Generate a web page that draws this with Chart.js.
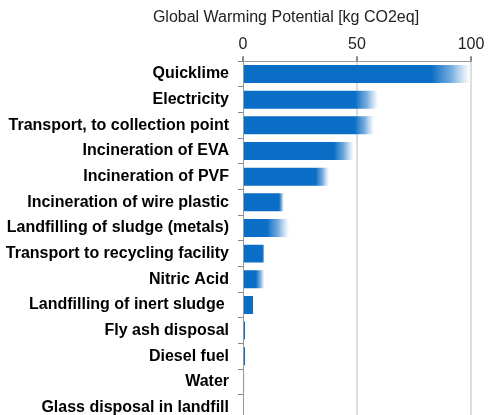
<!DOCTYPE html>
<html>
<head>
<meta charset="utf-8">
<script src="https://cdn.jsdelivr.net/npm/chart.js@4"></script>
<style>
  html, body { margin: 0; padding: 0; background: #fff; overflow: hidden; }
  #wrap { width: 488px; height: 439px; position: relative; }
</style>
</head>
<body>
<div id="wrap"><canvas id="gwpChart"></canvas></div>
<script>
// categories, top to bottom
var categories = ['Quicklime', 'Electricity', 'Transport, to collection point', 'Incineration of EVA',
  'Incineration of PVF', 'Incineration of wire plastic', 'Landfilling of sludge (metals)',
  'Transport to recycling facility', 'Nitric Acid', 'Landfilling of inert sludge ', 'Fly ash disposal',
  'Diesel fuel', 'Water', 'Glass disposal in landfill'];
// where the solid part of the bar ends, and where the faded end stops (kg CO2eq)
var solidValues = [82.8, 49.1, 49.0, 39.9, 31.9, 15.8, 10.5, 8.5, 5.6, 4.4, 0.9, 0.9, 0.5, 0];
var totalValues = [99.7, 59.3, 57.5, 48.7, 37.8, 17.9, 20.2, 9.5, 9.5, 4.4, 0.9, 0.9, 0.5, 0];
var xTicks = [0, 50, 100];
var axisTitle = 'Global Warming Potential [kg CO2eq]';

var blue = '#0a6ec6';
var fontFamily = 'Liberation Sans, Arial, sans-serif';

function barFill(ctx) {
  var chart = ctx.chart;
  if (!chart.chartArea) return blue;
  var i = ctx.dataIndex;
  if (categories[i] === 'Water') return '#6b8db4';
  var sx = chart.scales.x;
  var x0 = sx.getPixelForValue(solidValues[i]);
  var x1 = sx.getPixelForValue(totalValues[i]);
  if (x1 - x0 < 1) return blue;
  var g = chart.ctx.createLinearGradient(x0, 0, x1, 0);
  g.addColorStop(0, blue);
  g.addColorStop(0.5, 'rgba(80,150,215,0.8)');
  g.addColorStop(1, 'rgba(255,255,255,0.6)');
  return g;
}

// title sits left of the plot centre in the original figure
var titlePlugin = {
  id: 'offsetTitle',
  afterDraw: function(chart) {
    var c = chart.ctx;
    c.save();
    c.font = '16px ' + fontFamily;
    c.fillStyle = '#222';
    c.textAlign = 'center';
    c.textBaseline = 'middle';
    c.fillText(axisTitle, 286, 18);
    c.restore();
  }
};

var ctx = document.getElementById('gwpChart').getContext('2d');
var gwpChart = new Chart(ctx, {
  type: 'bar',
  data: {
    labels: categories,
    datasets: [{
      data: totalValues,
      backgroundColor: barFill,
      borderWidth: 0,
      barPercentage: 0.7,
      categoryPercentage: 1.0
    }]
  },
  plugins: [titlePlugin],
  options: {
    indexAxis: 'y',
    responsive: true,
    maintainAspectRatio: false,
    animation: false,
    layout: { padding: { left: 0, right: 17, top: 33, bottom: 2 } },
    plugins: { legend: { display: false }, tooltip: { enabled: false } },
    scales: {
      x: {
        position: 'top',
        min: 0, max: 100,
        afterBuildTicks: function(axis) { axis.ticks = xTicks.map(function(v) { return { value: v }; }); },
        ticks: {
          color: '#222',
          font: { family: fontFamily, size: 16 },
          padding: 2,
          maxRotation: 0
        },
        grid: {
          color: function(c) { return c.tick && c.tick.value === 0 ? 'rgba(0,0,0,0)' : '#dcdcdc'; },
          tickColor: '#888',
          tickLength: 5,
          lineWidth: 2
        },
        border: { color: '#999', width: 1 }
      },
      y: {
        afterFit: function(axis) { axis.width = 243; },
        ticks: {
          color: '#000',
          font: { family: fontFamily, size: 16, weight: 'bold' },
          padding: 9,
          autoSkip: false
        },
        grid: {
          offset: true,
          drawOnChartArea: false,
          tickColor: '#888',
          tickLength: 5
        },
        border: { color: '#999', width: 1 }
      }
    }
  }
});
</script>
</body>
</html>
